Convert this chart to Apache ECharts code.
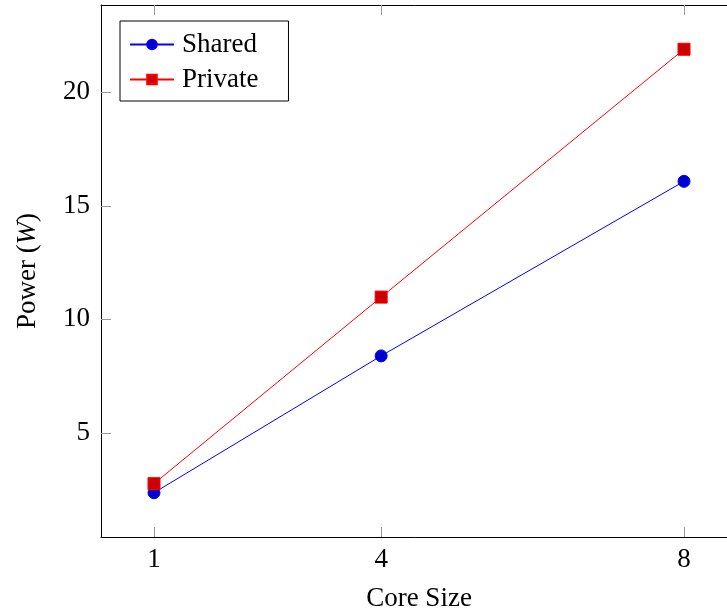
<!DOCTYPE html>
<html><head><meta charset="utf-8">
<script src="https://cdn.jsdelivr.net/npm/echarts@6/dist/echarts.min.js"></script>
<style>html,body{margin:0;padding:0;background:#fff}#c{width:727px;height:613px}</style>
</head><body><div id="c"></div>
<script>
// Power draw per core size, shared vs private configuration
const coreSizes = [1, 4, 8];
const sharedPower = [2.36, 8.39, 16.08];
const privatePower = [2.76, 10.98, 21.9];
const xTicks = [1, 4, 8];
const yTicks = [5, 10, 15, 20];

const FONT = 'Liberation Serif';
const tickStyle = { show: true, inside: true, length: 10, lineStyle: { color: '#999', width: 1 } };
const axisLine = { show: true, onZero: false, lineStyle: { color: '#000', width: 1 } };

const chart = echarts.init(document.getElementById('c'), null, { renderer: 'canvas' });
chart.setOption({
  backgroundColor: '#fff',
  animation: false,
  textStyle: { fontFamily: FONT },
  grid: { left: 101, right: -10, top: 5, bottom: 76, outerBoundsMode: 'none', containLabel: false },
  legend: {
    left: 120, top: 21, orient: 'vertical',
    borderColor: '#000', borderWidth: 1, borderRadius: 0,
    padding: [10, 30, 8, 9], itemGap: 8, itemWidth: 44, itemHeight: 12,
    textStyle: { fontFamily: FONT, fontSize: 27, color: '#000', padding: [0, 0, 0, 3] },
    data: ['Shared', 'Private']
  },
  xAxis: [{
    type: 'value', min: 0.3, max: 8.7, position: 'bottom',
    name: 'Core Size', nameLocation: 'middle', nameGap: 48,
    nameTextStyle: { fontFamily: FONT, fontSize: 27, color: '#000' },
    axisLine: axisLine,
    axisTick: Object.assign({ customValues: xTicks }, tickStyle),
    axisLabel: { customValues: xTicks, fontFamily: FONT, fontSize: 27, color: '#000', margin: 9 },
    splitLine: { show: false }
  }, {
    type: 'value', min: 0.3, max: 8.7, position: 'top',
    axisLine: axisLine,
    axisTick: Object.assign({ customValues: xTicks }, tickStyle),
    axisLabel: { show: false }, splitLine: { show: false }
  }],
  yAxis: [{
    type: 'value', min: 0.41, max: 23.85, position: 'left',
    name: 'Power ({i|W})', nameLocation: 'middle', nameGap: 60, nameRotate: 90,
    nameTextStyle: { fontFamily: FONT, fontSize: 27, color: '#000',
      rich: { i: { fontFamily: FONT, fontSize: 27, fontStyle: 'italic', color: '#000' } } },
    axisLine: axisLine,
    axisTick: Object.assign({ customValues: yTicks }, tickStyle),
    axisLabel: { customValues: yTicks, fontFamily: FONT, fontSize: 27, color: '#000', margin: 11 },
    splitLine: { show: false }
  }, {
    type: 'value', min: 0.41, max: 23.85, position: 'right',
    axisLine: axisLine,
    axisTick: Object.assign({ customValues: yTicks }, tickStyle),
    axisLabel: { show: false }, splitLine: { show: false }
  }],
  series: [{
    name: 'Shared', type: 'line',
    data: coreSizes.map((c, i) => [c, sharedPower[i]]),
    symbol: 'circle', symbolSize: 12,
    lineStyle: { color: '#0000ff', width: 1 },
    itemStyle: { color: '#0000cc', borderColor: '#0000ff', borderWidth: 1 }
  }, {
    name: 'Private', type: 'line',
    data: coreSizes.map((c, i) => [c, privatePower[i]]),
    symbol: 'rect', symbolSize: 12,
    lineStyle: { color: '#ff0000', width: 1 },
    itemStyle: { color: '#cc0000', borderColor: '#ff0000', borderWidth: 1 }
  }]
});
</script>
</body></html>
